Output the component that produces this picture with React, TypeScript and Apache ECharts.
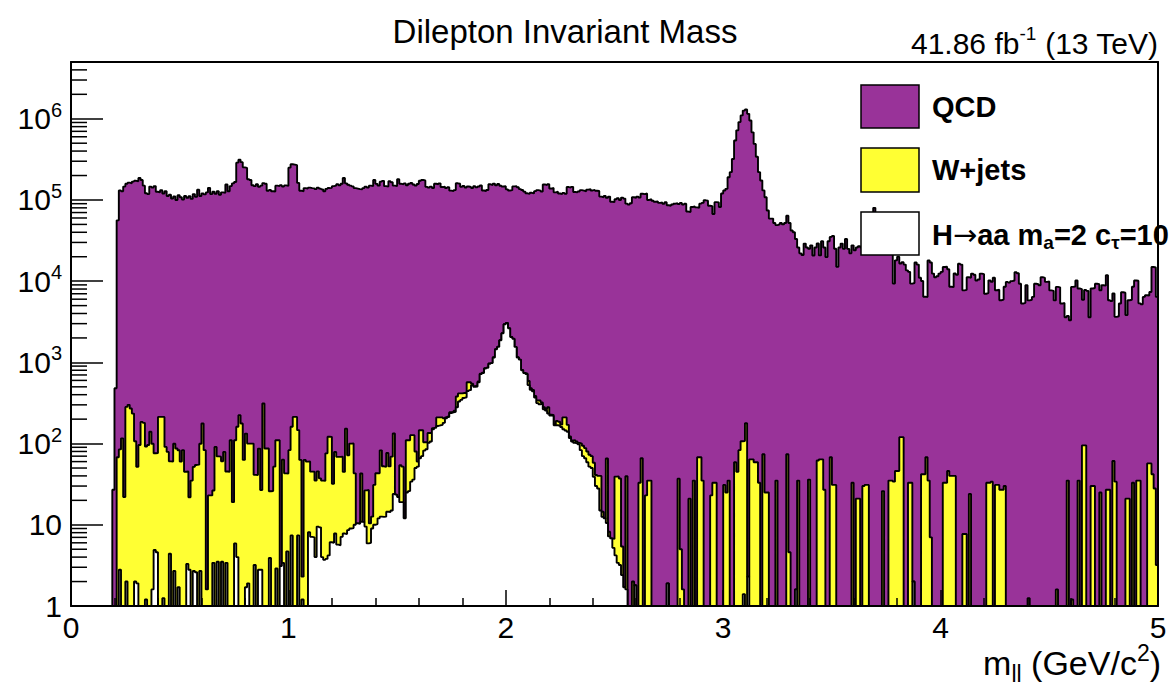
import React, { useEffect, useRef } from 'react';
import * as echarts from 'echarts';

// ---- data (500 bins of 0.01 GeV from 0 to 5) ----
const binWidth = 0.01;

// QCD bin contents, in thousands of events
const qcdThousands = [
  0,0,0,0,0,0,0,0,0,0,
  0,0,0,0,0,0,0,0,0,0.027,
  0.48,56,131,128,146,158,163,160,168,172,
  170,186,176,150,121,118,146,142,148,126,
  124,132,120,128,112,116,104,110,100,114,
  108,101,112,106,111,103,118,109,134,112,
  120,117,124,141,118,126,119,128,116,124,
  122,155,128,148,160,166,288,312,292,252,
  248,180,176,152,148,156,145,150,161,158,
  130,133,128,127,150,148,152,146,151,149,
  250,275,272,268,162,130,128,140,138,142,
  140,139,136,142,138,135,128,137,140,141,
  148,150,156,152,158,186,160,154,150,147,
  140,138,136,135,140,146,142,150,148,176,
  158,150,168,172,148,146,170,165,150,148,
  180,158,156,160,152,158,162,155,150,157,
  172,176,174,145,142,146,140,158,156,160,
  144,146,140,143,130,128,132,160,158,145,
  148,142,146,144,140,147,143,146,150,130,
  128,132,155,152,158,150,156,148,144,145,
  132,128,130,145,146,142,135,132,126,120,
  118,122,120,128,132,130,127,155,152,156,
  138,140,124,126,120,118,122,119,144,142,
  145,125,124,127,132,130,128,134,136,131,
  133,130,129,110,108,112,106,110,95,94,
  102,105,100,107,104,90,88,91,108,106,
  110,107,119,118,120,100,102,98,95,96,
  92,93,90,94,86,85,88,90,91,89,
  92,88,90,72,71,82,83,81,80,90,
  92,99,98,85,84,67,94,93,82,120,
  131,137,190,220,320,540,720,910,1100,1260,
  1300,1150,950,680,490,340,220,174,131,108,
  74,59,59,52,49,50,52,50,52,64,
  52,42,40,33,26,22,21,29,26,25,
  27.6,20.7,26,29,20.7,31,26,19.8,31,35,
  36,25,15,26,29,25,33,25,22,27.6,
  24,26,27,26,28,30,27,33,45,80,
  55,36,30,26,28,24,27,25,9.3,18,
  20,16.4,17,16,13.6,13,9.3,9.5,17,16,
  11,10,6.4,6.3,18,17,12.4,11.2,11.5,12.4,
  13,14.9,15,14,8.5,8.4,12.4,12,16.4,16,
  7.7,7.8,11.2,11,12.4,12,10.2,10.5,12.4,12.2,
  7,7.1,10.2,9.8,11,7.7,7.8,5.8,5.9,8.5,
  9.8,9.6,10,10.2,12.9,12.5,9.3,5.3,5.4,8.9,
  5.8,5.9,6.4,9.3,9.2,8.9,11.2,11,9.8,9.9,
  7.7,7.6,5.8,8.5,8.4,5.3,5.4,3.6,3.7,3.3,
  8.5,8.6,10.2,8.1,8.0,5.8,7.7,7.6,3.6,8.1,
  8.2,9.3,9.2,7.7,8.9,8.8,11.8,5.8,5.7,7,
  3.6,3.7,5.3,7.3,7.2,3.8,5.8,5.9,8.5,10.2,
  10.1,5.3,5.2,6.4,6.7,6.6,7.3,14.9,14.7,6.4,
];

// W+jets bin contents
const wjets = [
  0,0,0,0,0,0,0,0,0,0,
  0,0,0,0,0,0,0,0,0,0,
  0,68,82,116,22,281,300,270,234,105,
  50,96,185,180,91,96,140,98,71,72,
  213,213,212,91,79,56,60,97,87,81,
  60,83,45,42,19,35,49,52,55,97,
  177,83,1.6,23,23,23,91,66,69,57,
  79,42,45,110,19,104,157,224,177,63,
  131,98,100,100,38,41,84,24,311,87,
  87,22,26,52,107,110,0,60,43,38,
  83,154,213,213,139,63,1.1,63,60,52,
  38,38,31,36,28,31,31,72,117,115,
  26,71,63,63,62,37,145,63,91,91,
  33,0,0,32,0,17,21,4.4,3.6,21,
  33,31,70,40,39,62,38,54,109,0,
  0,35,33,0,85,84,93,91,30,8,
  80,76,22,19,33,29,5,2,45,42,
  40,25,5,3,6,4,8,100,85,70,
  55,48,125,115,20,10,15,12,6,4,
  5,0,8,0,6,0,10,0,5,0,
  0,4,0,6,0,5,0,4,0,6,
  65,20,18,15,25,35,12,15,10,45,
  5,8,4,22,20,12,60,65,30,5,
  3,8,6,4,17,24,22,21,21,20,
  19,11,12,25,2,0,55,1,0,1.5,
  35,36,34,3,0,38,0,0,2,0,
  0,33,66,0,23,35,35,0,0,0,
  0,0,0,0,0,0,0,0,0,37,
  5,1.6,0,0,21,0,35,0,68,68,
  35,0,0,0,23,33,33,0,0,0,
  31,25,35,0,0,59,45,83,107,106,
  178,0,64,64,59,59,33,0,74,25,
  25,0,0,0,35,0,0,0,0,74,
  4.6,0,0,0,35,0,0,0,0,36,
  0,0,0,62,64,64,27,0,0,68,
  31,31,0,0,0,0,0,0,0,33,
  0,21,21,0,30,31,31,0,0,0,
  0,0,0,26,0,0,35,35,34,46,
  46,120,120,0,0,33,33,0,0,0,
  0,42,42,68,35,7,0,0,0,0,
  0,33,33,46,40,40,40,0,0,0,
  7.7,7.7,0,24,0,0,0,0,0,0,
  0,33,33,34,0,31,31,27,27,30,
  0,0,0,0,0,0,0,0,0,0,
  1.25,0,0,0,0,0,0,0,0,0,
  0,0,0,1.6,0,0,0,0,35,0,
  1.2,0,0,35,0,95,95,0,0,30,
  30,0,0,25,0,0,27,27,0,61,
  34,0,0,0,0,21,21,0,33,0,
  35,35,0,0,0,57,57,42,28,3.2,
];

// H->aa signal bin contents
const signal = [
  0,0,0,0,0,0,0,0,0,0,
  0,0,0,0,0,0,0,0,0,0,
  0,0,2.8,0,0,2.0,0,0,0,2.0,
  1.9,0,0,0,1.2,0,0,1.6,4.9,4.6,
  0,0,1.25,0,0,4.4,0,2.7,0,1.7,
  0,0,0,3.3,2.8,0,2.7,2.6,0,2.7,
  0,0,0,0,0,3.4,0,3.5,0,3.5,
  0,3.4,0,0,0,5.9,4.0,0,0,0,
  1.7,1.9,0,0,3.2,0,2.8,2.8,0,0,
  0,3.9,0,0,2.9,0,3.1,3.4,0,4.7,
  0,7.4,0,0,7.4,0,1.2,0,0,8.1,
  7.1,7.0,4.0,9.5,9.3,4.0,3.7,3.8,4.2,6.1,
  6.0,7.8,5.7,5.6,7.1,7.8,7.7,8.6,9.0,9.1,
  10,10.4,10.3,10.9,10.8,9.5,5.9,6.0,9.0,10,
  10.2,12,12.6,12.5,12.6,14.5,14.4,15,24,23.5,
  22,19,19,12,25,26,34,36,50,52,
  66,70,82,85,102,106,150,156,165,168,
  170,180,205,212,238,242,246,280,330,345,
  365,372,445,455,525,500,505,570,720,740,
  840,860,960,980,1150,1450,1550,1870,2280,2950,
  3050,2630,2050,1950,1550,1150,1080,800,740,720,
  525,460,440,370,315,305,310,265,255,235,
  222,218,168,168,166,160,150,145,140,117,
  106,102,100,98,83,70,66,59,52,50,
  39,30,28,15,12.5,12,10.5,7.2,6.8,5.2,
  4.2,3.4,3.2,2.4,1.7,1.6,0,0,0,1.8,
  0,0,0,0,0,0,0,0,0,0,
  0,0,0,0,1.9,0,0,0,0,0,
  0,0,0,0,0,0,0,0,0,0,
  0,0,0,0,0,0,0,0,0,0,
  0,0,0,0,0,0,0,0,0,1.4,
  0,2.3,0,0,0,0,0,0,0,0,
  0,0,0,0,0,0,0,0,0,0,
  0,0,0,1.6,0,0,0,0,0,0,
  0,0,0,0,0,0,0,0,0,0,
  0,0,0,0,0,0,0,0,0,0,
  0,0,0,0,0,0,0,0,0,0,
  0,0,0,0,0,0,0,0,0,0,
  0,0,0,0,0,0,0,2.0,0,0,
  0,0,0,0,0,0,0,0,0,0,
  0,0,0,0,0,0,0,0,0,0,
  0,0,0,0,0,0,0,0,0,0,
  0,0,0,0,0,0,0,0,0,0,
  0,0,0,0,0,0,0,0,0,0,
  0,0,0,0,0,0,0,0,0,0,
  0,0,0,0,0,0,0,0,0,0,
  0,0,0,0,0,0,0,0,0,0,
  0,0,0,0,0,0,0,0,0,0,
  0,0,0,0,0,0,0,0,0,0,
  0,0,0,0,0,0,0,0,0,0,
];

const legendNames = ['QCD', 'W+jets', 'H{arrow|\u2192}aa m{sub|a}=2 c{sub|\u03c4}=10'];
const X_MIN = 0;
const X_MAX = 5;
const Y_MIN = 1;
const Y_MAX = 5e6;

const FONT = '"Liberation Sans", Arial, Helvetica, sans-serif';
const PURPLE = '#993399';
const YELLOW = '#ffff33';

function stepData(values: number[]) {
  const pts: number[][] = values.map((v, i) => [+(i * binWidth).toFixed(4), Math.max(v, Y_MIN)]);
  const last = values[values.length - 1];
  pts.push([+(values.length * binWidth).toFixed(4), Math.max(last, Y_MIN)]);
  return pts;
}

const qcd = qcdThousands.map((v) => v * 1000);
const sigStack = signal.slice();
const wStack = signal.map((s, i) => s + wjets[i]);
const totalStack = wStack.map((w, i) => w + qcd[i]);

function histSeries(name: string, values: number[], color: string, z: number) {
  return {
    type: 'line',
    name,
    data: stepData(values),
    step: 'end',
    symbol: 'none',
    showSymbol: false,
    silent: true,
    clip: true,
    z,
    lineStyle: { color: '#000', width: 1.9 },
    areaStyle: { color, opacity: 1, origin: 'start' },
  };
}

const yMinorTicks: number[] = [];
for (let d = 0; d <= 7; d++) {
  for (let m = 2; m <= 9; m++) {
    const v = m * Math.pow(10, d);
    if (v < Y_MAX) yMinorTicks.push(v);
  }
}

export default function App() {
  const ref = useRef<HTMLDivElement>(null);
  useEffect(() => {
    if (!ref.current) return;
    const chart = echarts.init(ref.current, undefined, { renderer: 'svg' });
    const axisLineStyle = { color: '#000', width: 2 };
    const option: any = {
      animation: false,
      backgroundColor: '#fff',
      grid: { left: 71, right: 15, top: 62, bottom: 80, containLabel: false, outerBoundsMode: 'none' },
      xAxis: [
        {
          type: 'value',
          min: X_MIN,
          max: X_MAX,
          interval: 1,
          z: 20,
          axisLine: { show: true, onZero: false, lineStyle: axisLineStyle },
          axisTick: { show: true, inside: true, length: 16, lineStyle: { color: '#000', width: 1.5 } },
          minorTick: { show: true, splitNumber: 5, length: 8, lineStyle: { color: '#000', width: 1.5 } },
          axisLabel: { show: true, color: '#000', fontSize: 30, fontFamily: FONT, margin: 6 },
          splitLine: { show: false },
          minorSplitLine: { show: false },
        },
        {
          type: 'value',
          position: 'top',
          min: 0,
          max: 1,
          z: 20,
          axisLine: { show: true, onZero: false, lineStyle: axisLineStyle },
          axisTick: { show: false },
          axisLabel: { show: false },
          splitLine: { show: false },
        },
      ],
      yAxis: [
        {
          type: 'log',
          logBase: 10,
          min: Y_MIN,
          max: Y_MAX,
          z: 20,
          axisLine: { show: true, onZero: false, lineStyle: axisLineStyle },
          axisTick: { show: true, inside: true, length: 32, lineStyle: { color: '#000', width: 1.5 } },
          axisLabel: {
            show: true,
            margin: 9,
            color: '#000',
            fontSize: 30,
            fontFamily: FONT,
            lineHeight: 38,
            formatter: (v: number) => {
              const e = Math.round(Math.log10(v));
              if (Math.abs(v - Math.pow(10, e)) > 1e-6 * v) return '';
              if (e === 0) return '1';
              if (e === 1) return '10';
              return '10{sup|' + e + '}';
            },
            rich: {
              sup: { fontSize: 20, fontFamily: FONT, color: '#000', lineHeight: 20, verticalAlign: 'top' },
            },
          },
          splitLine: { show: false },
        },
        {
          type: 'value',
          position: 'right',
          min: 0,
          max: 1,
          z: 20,
          axisLine: { show: true, onZero: false, lineStyle: axisLineStyle },
          axisTick: { show: false },
          axisLabel: { show: false },
          splitLine: { show: false },
        },
      ],
      series: [
        histSeries('QCD', totalStack, PURPLE, 2),
        histSeries('W+jets', wStack, YELLOW, 3),
        histSeries('H->aa', sigStack, '#ffffff', 4),
        {
          type: 'custom',
          coordinateSystem: 'cartesian2d',
          xAxisIndex: 0,
          yAxisIndex: 0,
          silent: true,
          clip: false,
          z: 25,
          data: yMinorTicks.map((v) => [X_MIN, v]),
          renderItem: (_params: any, api: any) => {
            const p = api.coord([X_MIN, api.value(1)]);
            return {
              type: 'line',
              shape: { x1: p[0], y1: p[1], x2: p[0] + 16, y2: p[1] },
              style: { stroke: '#000', lineWidth: 1.5 },
            };
          },
        },
      ],
      graphic: [
        {
          type: 'text', x: 565, y: 31, z: 100,
          style: { text: 'Dilepton Invariant Mass', fontSize: 33, fontFamily: FONT, fill: '#000', align: 'center', verticalAlign: 'middle' },
        },
        {
          type: 'text', x: 1158, y: 43, z: 100,
          style: {
            text: '41.86 fb{sup|-1} (13 TeV)', fontSize: 30, fontFamily: FONT, fill: '#000', align: 'right', verticalAlign: 'middle', lineHeight: 38,
            rich: { sup: { fontSize: 19, fontFamily: FONT, fill: '#000', lineHeight: 20, verticalAlign: 'top' } },
          },
        },
        {
          type: 'text', x: 1161, y: 663, z: 100,
          style: {
            text: 'm{sub|ll} (GeV/c{sup|2})', fontSize: 34, fontFamily: FONT, fill: '#000', align: 'right', verticalAlign: 'middle', lineHeight: 44,
            rich: {
              sub: { fontSize: 23, fontFamily: FONT, fill: '#000', lineHeight: 24, verticalAlign: 'bottom' },
              sup: { fontSize: 23, fontFamily: FONT, fill: '#000', lineHeight: 24, verticalAlign: 'top' },
            },
          },
        },
        { type: 'rect', z: 100, shape: { x: 861, y: 85, width: 58, height: 43 }, style: { fill: PURPLE, stroke: '#000', lineWidth: 1.5 } },
        { type: 'rect', z: 100, shape: { x: 861, y: 148, width: 58, height: 44 }, style: { fill: YELLOW, stroke: '#000', lineWidth: 1.5 } },
        { type: 'rect', z: 100, shape: { x: 861, y: 212, width: 58, height: 43 }, style: { fill: '#fff', stroke: '#000', lineWidth: 1.5 } },
        {
          type: 'text', x: 932, y: 107, z: 100,
          style: { text: legendNames[0], fontSize: 29, fontWeight: 'bold', fontFamily: FONT, fill: '#000', align: 'left', verticalAlign: 'middle' },
        },
        {
          type: 'text', x: 932, y: 170, z: 100,
          style: { text: legendNames[1], fontSize: 29, fontWeight: 'bold', fontFamily: FONT, fill: '#000', align: 'left', verticalAlign: 'middle' },
        },
        {
          type: 'text', x: 932, y: 235, z: 100,
          style: {
            text: legendNames[2], fontSize: 29, fontWeight: 'bold', fontFamily: FONT, fill: '#000', align: 'left', verticalAlign: 'middle', lineHeight: 34,
            rich: {
              sub: { fontSize: 19, fontWeight: 'bold', fontFamily: FONT, fill: '#000', lineHeight: 20, verticalAlign: 'bottom' },
              arrow: { fontSize: 29, fontFamily: '"DejaVu Sans", sans-serif', fill: '#000', lineHeight: 34, verticalAlign: 'middle' },
            },
          },
        },
      ],
    };
    chart.setOption(option);
    return () => chart.dispose();
  }, []);
  return (
    <div
      ref={ref}
      style={{ position: 'fixed', left: 0, top: 0, width: 1173, height: 686, background: '#fff' }}
    />
  );
}
